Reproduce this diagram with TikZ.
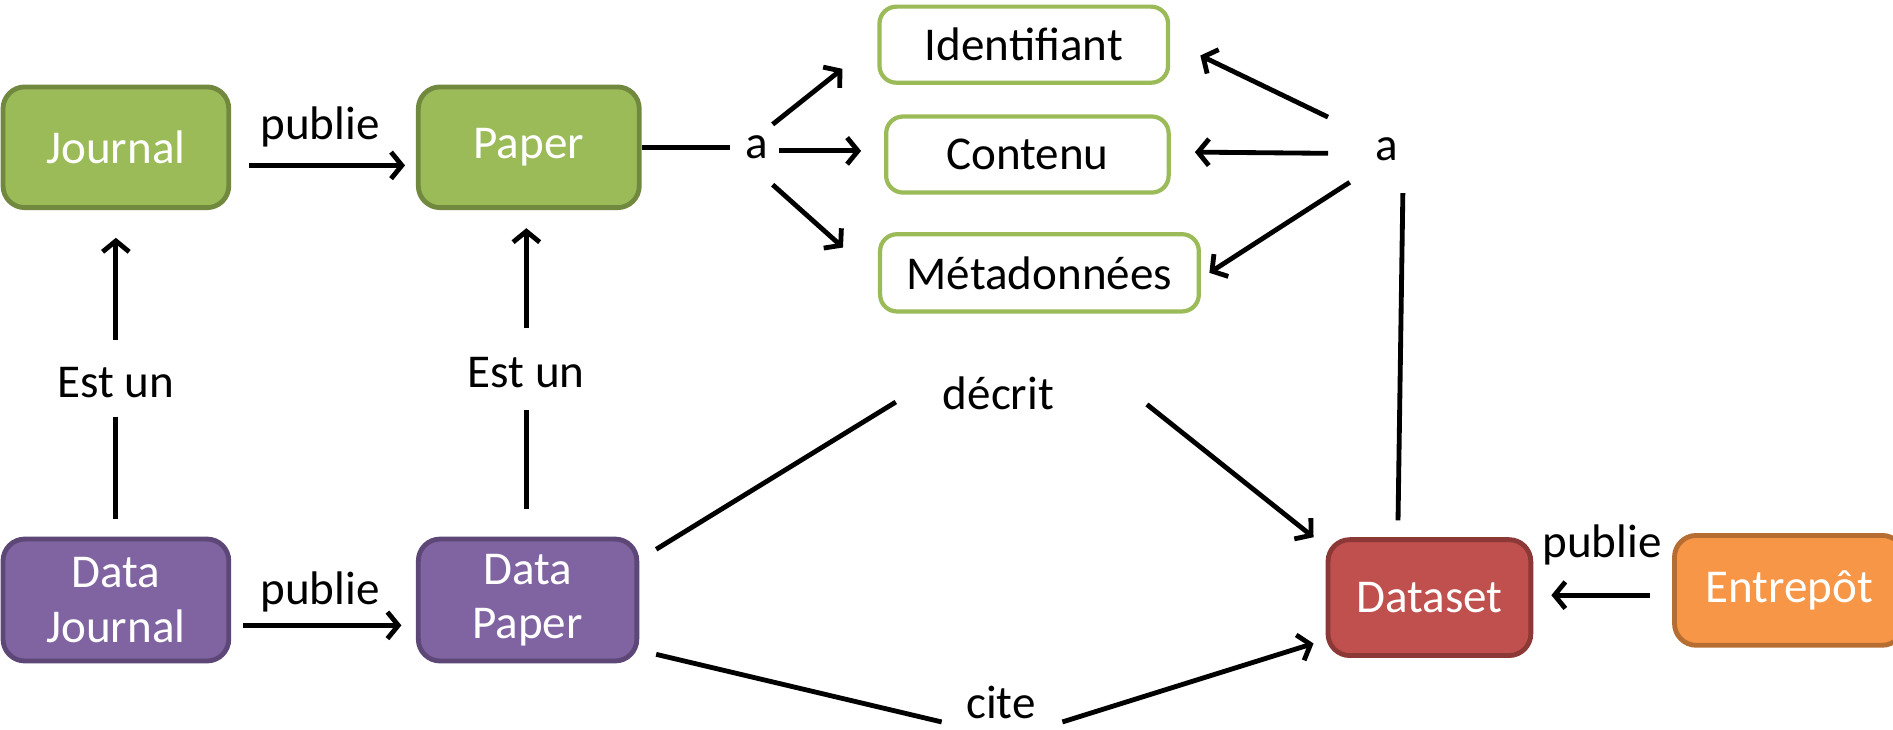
\documentclass[tikz,border=0pt]{standalone}
\usepackage{fontspec}
\setmainfont{Carlito}
\usetikzlibrary{arrows.meta,calc}
\definecolor{gfill}{HTML}{9BBB59}
\definecolor{gdraw}{HTML}{71893F}
\definecolor{pfill}{HTML}{8064A2}
\definecolor{pdraw}{HTML}{5C4776}
\definecolor{rfill}{HTML}{C0504D}
\definecolor{rdraw}{HTML}{8C3836}
\definecolor{ofill}{HTML}{F79646}
\definecolor{odraw}{HTML}{B66D31}
\tikzset{
  every node/.style={font=\fontsize{39}{45}\selectfont},
  box/.style={rounded corners=18pt, line width=4pt, text=white, align=center, inner sep=0pt},
  gbox/.style={box, fill=gfill, draw=gdraw},
  pbox/.style={box, fill=pfill, draw=pdraw},
  rbox/.style={box, fill=rfill, draw=rdraw},
  obox/.style={box, fill=ofill, draw=odraw},
  wbox/.style={rounded corners=14pt, line width=3.5pt, draw=gfill, fill=white, text=black, inner sep=0pt},
  lbl/.style={inner sep=0pt, text=black},
  conn/.style={line width=4pt, line join=round},
  arr/.style={conn, -{Straight Barb[length=9pt,width=22pt]}},
}
\begin{document}
\begin{tikzpicture}[x=1pt,y=-1pt]
\useasboundingbox (0,0) rectangle (1568,604);
% boxes
\node[gbox, minimum width=187pt, minimum height=100pt] (journal) at (96,122) {Journal};
\node[gbox, minimum width=183pt, minimum height=100pt] (paper) at (438,122) {Paper};
\node[pbox, minimum width=187pt, minimum height=101pt] (djournal) at (96,497) {Data\\Journal};
\node[pbox, minimum width=181pt, minimum height=101pt] (dpaper) at (437,497) {Data\\Paper};
\node[rbox, minimum width=168pt, minimum height=96pt] (dataset) at (1184,495) {Dataset};
\node[obox, minimum width=190pt, minimum height=91pt] (entrepot) at (1482,489) {Entrepôt};
\node[wbox, minimum width=239pt, minimum height=63pt] (ident) at (848,37) {Identifiant};
\node[wbox, minimum width=234pt, minimum height=63pt] (contenu) at (851,128) {Contenu};
\node[wbox, minimum width=264pt, minimum height=64pt] (meta) at (861,226) {Métadonnées};
% labels
\node[lbl] (pub1) at (265,105) {publie};
\node[lbl] (pub2) at (265,490) {publie};
\node[lbl] (pub3) at (1327,451) {publie};
\node[lbl] (a1) at (627,122) {a};
\node[lbl] (a2) at (1149,124) {a};
\node[lbl] (est1) at (96,317) {Est un};
\node[lbl] (est2) at (436,309) {Est un};
\node[lbl] (decrit) at (827,326) {décrit};
\node[lbl] (cite) at (829,582) {cite};
% connectors
\draw[arr] ($(journal.east)+(15,15)$) -- ($(paper.west)+(-9,15)$);
\draw[arr] ($(djournal.east)+(10,21)$) -- ($(dpaper.west)+(-12,21)$);
\draw[conn] (paper.east) -- ($(a1.center)+(-22,0)$);
\draw[arr] ($(a1.center)+(13,-19)$) -- ($(ident.west)+(-29,20)$);
\draw[arr] ($(a1.center)+(18,3)$) -- ($(contenu.west)+(-19,-3)$);
\draw[arr] ($(a1.center)+(13,31)$) -- ($(meta.west)+(-29,-21)$);
\draw[arr] ($(a2.center)+(-49,-27)$) -- ($(ident.east)+(25,9)$);
\draw[arr] ($(a2.center)+(-49,3)$) -- ($(contenu.east)+(20,-2)$);
\draw[arr] ($(a2.center)+(-31,27)$) -- ($(meta.east)+(7,0)$);
\draw[conn] ($(a2.center)+(13,36)$) -- ($(dataset.north)+(-26,-14)$);
\draw[arr] ($(est1.center)+(0,-35)$) -- ($(journal.south)+(0,23)$);
\draw[conn] ($(est1.center)+(0,28)$) -- ($(djournal.north)+(0,-15)$);
\draw[arr] ($(est2.center)+(0,-37)$) -- ($(paper.south)+(-2,15)$);
\draw[conn] ($(est2.center)+(0,31)$) -- ($(dpaper.north)+(-1,-23)$);
\draw[conn] ($(dpaper.east)+(14,-42)$) -- ($(decrit.center)+(-85,7)$);
\draw[arr] ($(decrit.center)+(123,9)$) -- ($(dataset.north west)+(-10,0)$);
\draw[conn] ($(dpaper.east)+(14,45)$) -- ($(cite.center)+(-49,16)$);
\draw[arr] ($(cite.center)+(51,16)$) -- ($(dataset.west)+(-10,38)$);
\draw[arr] ($(entrepot.west)+(-18,4)$) -- ($(dataset.east)+(15,-2)$);
\end{tikzpicture}
\end{document}
